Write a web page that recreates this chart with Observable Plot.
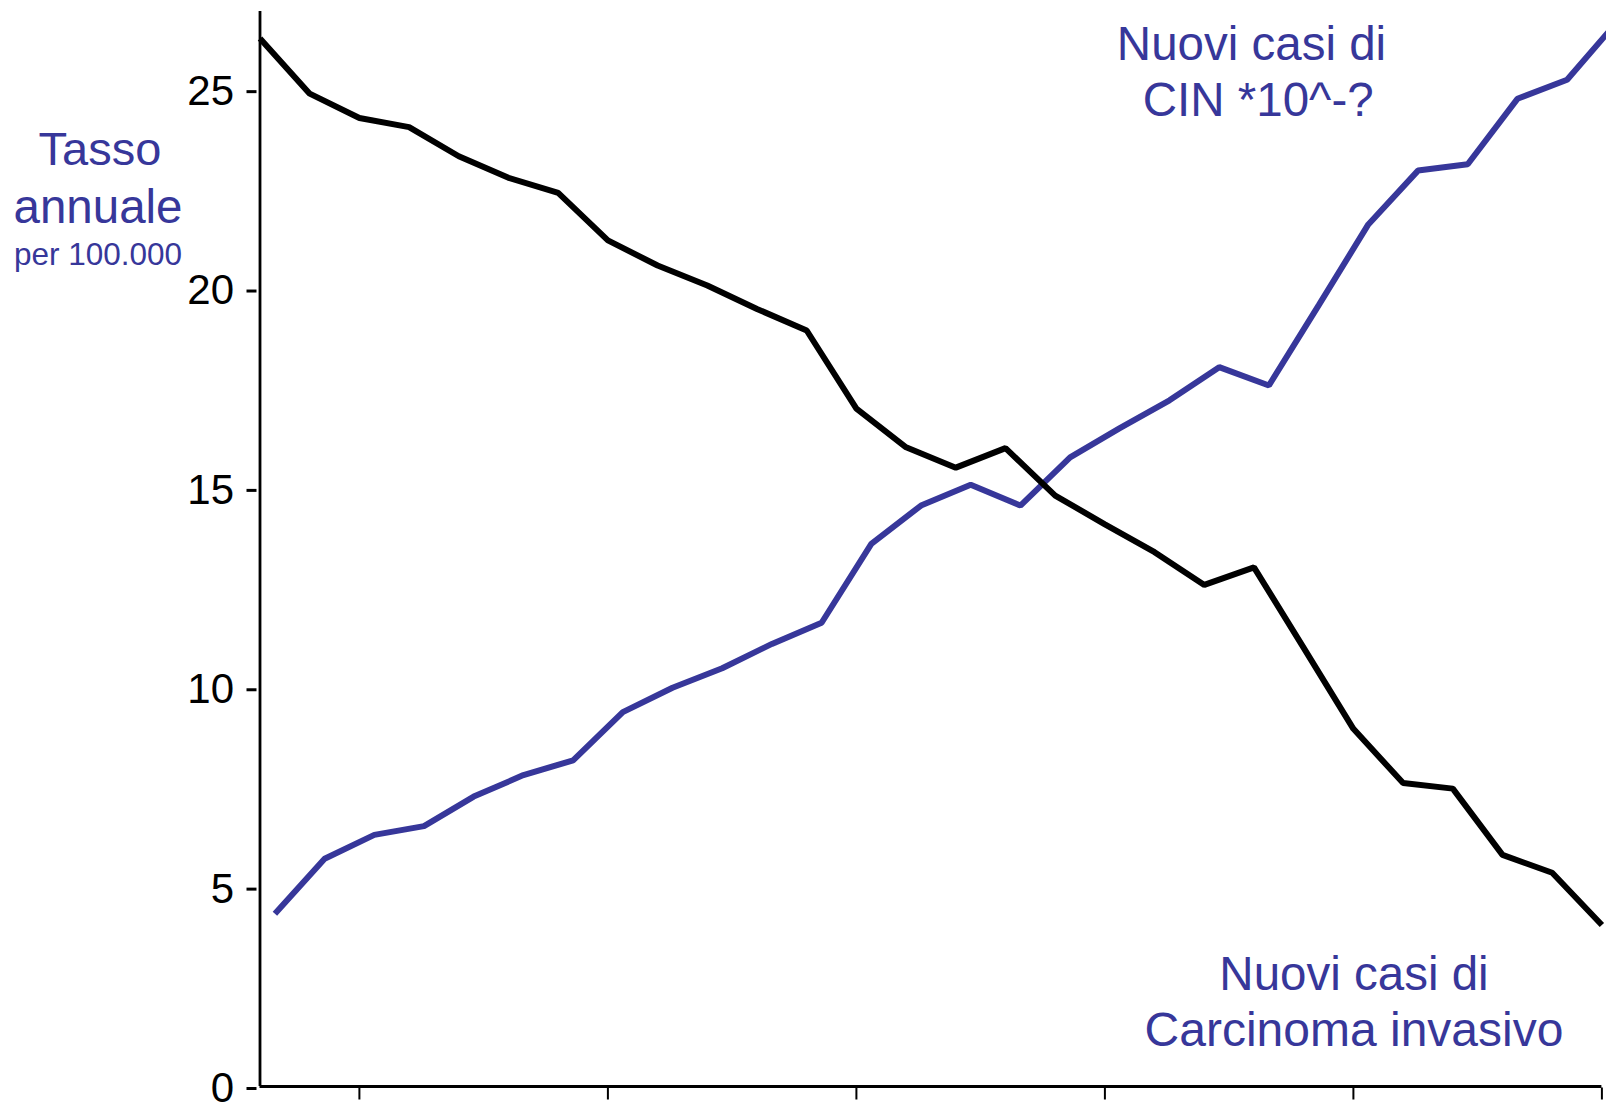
<!DOCTYPE html>
<html>
<head>
<meta charset="utf-8">
<script src="https://cdn.jsdelivr.net/npm/d3@7"></script>
<script src="https://cdn.jsdelivr.net/npm/@observablehq/plot@0.6"></script>
<style>
  html, body { margin: 0; padding: 0; background: #fff; overflow: hidden; }
  #chart svg { display: block; overflow: hidden; }
</style>
</head>
<body>
<div id="chart"></div>
<script>
// ---- data ----
const periodo = [0,1,2,3,4,5,6,7,8,9,10,11,12,13,14,15,16,17,18,19,20,21,22,23,24,25,26,27];
const carcinomaInvasivo = [26.28,24.90,24.29,24.06,23.33,22.79,22.41,21.22,20.59,20.09,19.50,18.96,17.00,16.03,15.52,16.01,14.82,14.10,13.40,12.58,13.02,11.00,8.97,7.61,7.47,5.81,5.36,4.05];
const periodoCIN = [0.3,1.3,2.3,3.3,4.3,5.3,6.3,7.3,8.3,9.3,10.3,11.3,12.3,13.3,14.3,15.3,16.3,17.3,18.3,19.3,20.3,21.3,22.3,23.3,24.3,25.3,26.3,27.3];
const nuoviCIN = [4.33,5.71,6.31,6.53,7.27,7.81,8.18,9.39,10.00,10.49,11.10,11.63,13.61,14.57,15.09,14.57,15.78,16.51,17.21,18.04,17.58,19.59,21.62,22.97,23.13,24.77,25.25,26.69];
const yTicks = [0,5,10,15,20,25];
const xTicks = [2,7,12,17,22,27];

const blu = "#37379a";
const font = "'Liberation Sans', Arial, Helvetica, sans-serif";

const black = periodo.map((p, i) => ({x: p, y: carcinomaInvasivo[i]}));
const blue = periodoCIN.map((p, i) => ({x: p, y: nuoviCIN[i]}));

const chart = Plot.plot({
  width: 1606,
  height: 1103,
  marginLeft: 259.5,
  marginRight: 4.6,
  marginTop: 11,
  marginBottom: 17,
  style: {fontFamily: font, background: "#fff", overflow: "hidden"},
  x: {domain: [0, 27], axis: null},
  y: {domain: [0, 26.96], axis: null},
  marks: [
    Plot.axisY({ticks: yTicks, label: null, tickSize: 10, tickPadding: 13, dx: -3, fontSize: 42, strokeWidth: 3, stroke: "#000", fill: "#000", tickFormat: d => String(d), dy: 2}),
    Plot.axisX({ticks: xTicks, label: null, tickSize: 12, strokeWidth: 2, stroke: "#000", tickFormat: () => "", dy: 1.5}),
    Plot.ruleX([0], {stroke: "#000", strokeWidth: 2.8}),
    Plot.ruleY([0], {stroke: "#000", strokeWidth: 2.8}),
    Plot.line(blue, {x: "x", y: "y", stroke: blu, strokeWidth: 6, strokeLinejoin: "miter", strokeLinecap: "butt"}),
    Plot.line(black, {x: "x", y: "y", stroke: "#000", strokeWidth: 6, strokeLinejoin: "miter", strokeLinecap: "butt"}),
    // annotations
    Plot.text(["Tasso"], {x: (99.5 - 259.5) / 49.7, y: (1086 - 165) / 39.87, text: d => d, fontSize: 47, fill: blu, textAnchor: "middle", lineAnchor: "bottom"}),
    Plot.text(["annuale"], {x: (97.5 - 259.5) / 49.7, y: (1086 - 222.7) / 39.87, text: d => d, fontSize: 47.5, fill: blu, textAnchor: "middle", lineAnchor: "bottom"}),
    Plot.text(["per 100.000"], {x: (97.5 - 259.5) / 49.7, y: (1086 - 265) / 39.87, text: d => d, fontSize: 31.5, fill: blu, textAnchor: "middle", lineAnchor: "bottom"}),
    Plot.text(["Nuovi casi di"], {x: (1251 - 259.5) / 49.7, y: (1086 - 59.3) / 39.87, text: d => d, fontSize: 47.5, fill: blu, textAnchor: "middle", lineAnchor: "bottom"}),
    Plot.text(["CIN *10^-?"], {x: (1257.7 - 259.5) / 49.7, y: (1086 - 115.7) / 39.87, text: d => d, fontSize: 47.5, fill: blu, textAnchor: "middle", lineAnchor: "bottom"}),
    Plot.text(["Nuovi casi di"], {x: (1353.5 - 259.5) / 49.7, y: (1086 - 990) / 39.87, text: d => d, fontSize: 47.5, fill: blu, textAnchor: "middle", lineAnchor: "bottom"}),
    Plot.text(["Carcinoma invasivo"], {x: (1353.5 - 259.5) / 49.7, y: (1086 - 1046) / 39.87, text: d => d, fontSize: 48, fill: blu, textAnchor: "middle", lineAnchor: "bottom"})
  ]
});
document.getElementById("chart").appendChild(chart);
</script>
</body>
</html>
